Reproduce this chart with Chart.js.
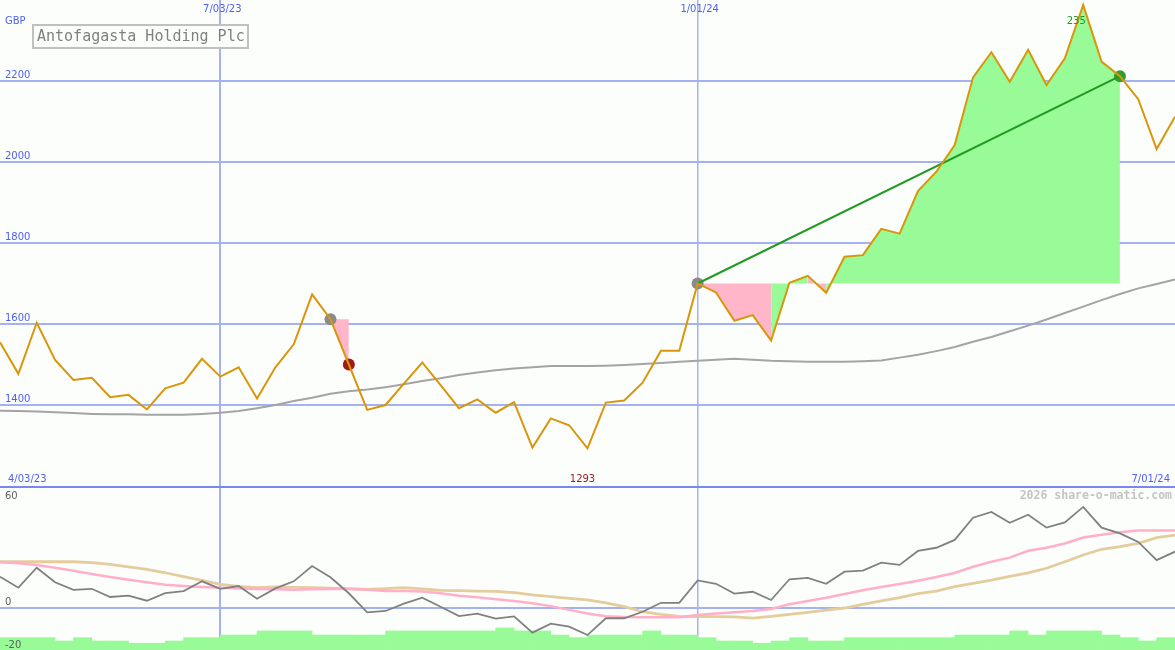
<!DOCTYPE html>
<html lang="en">
<head>
<meta charset="UTF-8">
<title>Antofagasta Holding Plc</title>
<script src="https://cdn.jsdelivr.net/npm/chart.js"></script>
<style>
  body { margin: 0; padding: 0; background: #fcfefc; }
  .wrap { width: 1175px; height: 650px; }
  canvas { display: block; }
  .sep { height: 2px; background: #7a88ee; }
</style>
</head>
<body>
<div class="wrap">
  <canvas id="priceChart" width="1175" height="486"></canvas>
  <div class="sep"></div>
  <canvas id="oscChart" width="1175" height="162"></canvas>
</div>

<script>
// weekly closes, week 0 = 4/03/23 ... week 64 = 7/01/24
const price = [1555, 1477, 1603, 1511, 1462, 1467, 1419, 1425, 1389, 1441,
               1455, 1514, 1470, 1493, 1416, 1493, 1550, 1673, 1612, 1500,
               1388, 1400, 1453, 1505, 1449, 1392, 1414, 1381, 1407, 1295,
               1367, 1350, 1293, 1406, 1411, 1455, 1534, 1534, 1700, 1678,
               1608, 1622, 1559, 1702, 1719, 1677, 1766, 1770, 1835, 1823,
               1928, 1976, 2042, 2209, 2271, 2198, 2277, 2190, 2256, 2388,
               2248, 2212, 2155, 2032, 2112];
const movingAvg = [1386, 1385, 1384, 1382, 1380, 1378, 1377, 1377, 1376, 1376,
                   1376, 1378, 1381, 1385, 1392, 1400, 1410, 1418, 1428, 1434,
                   1438, 1444, 1451, 1459, 1466, 1474, 1480, 1486, 1490, 1493,
                   1496, 1496, 1496, 1497, 1499, 1501, 1504, 1507, 1509, 1512,
                   1514, 1512, 1509, 1508, 1507, 1507, 1507, 1508, 1510, 1517,
                   1524, 1533, 1543, 1556, 1568, 1582, 1596, 1611, 1627, 1643,
                   1659, 1674, 1688, 1699, 1710];
const osc = [16.8, 10.9, 21.6, 13.8, 9.7, 10.3, 5.9, 6.6, 3.9, 8.0,
             9.1, 14.3, 10.3, 11.8, 5.0, 10.5, 14.3, 22.5, 16.5, 7.9,
             -2.3, -1.6, 2.3, 5.5, 0.7, -4.3, -3.0, -5.7, -4.5, -13.2,
             -8.4, -10.0, -14.5, -5.5, -5.5, -2.0, 2.8, 2.8, 14.8, 13.0,
             7.7, 8.7, 4.3, 15.4, 16.1, 13.0, 19.5, 20.0, 24.3, 23.1,
             30.6, 32.3, 36.5, 48.4, 51.5, 45.7, 50.0, 43.1, 45.9, 54.2,
             43.1, 40.0, 35.4, 25.7, 30.2];
const oscFast = [24.5, 24.0, 23.1, 21.6, 20.0, 18.2, 16.6, 15.2, 13.8, 12.5,
                 11.8, 11.3, 10.9, 10.5, 10.2, 10.0, 9.8, 10.0, 10.2, 10.2,
                 9.8, 9.1, 9.1, 8.8, 7.9, 6.6, 5.7, 4.7, 3.8, 2.5,
                 1.0, -1.0, -3.0, -4.4, -4.8, -5.0, -5.0, -5.0, -3.8, -3.0,
                 -2.3, -1.6, -0.5, 2.0, 3.8, 5.5, 7.5, 9.5, 11.3, 12.9,
                 14.6, 16.6, 18.8, 22.1, 24.8, 27.0, 30.7, 32.3, 34.6, 37.8,
                 39.3, 40.6, 41.5, 41.5, 41.5];
const oscSlow = [24.8, 24.8, 24.8, 24.8, 24.8, 24.3, 23.4, 22.1, 20.7, 18.9,
                 16.8, 14.8, 12.7, 11.6, 10.9, 11.3, 11.1, 10.9, 10.7, 10.4,
                 10.0, 10.4, 10.9, 10.2, 9.5, 9.3, 9.1, 8.9, 8.2, 7.0,
                 6.1, 5.2, 4.3, 2.7, 0.7, -2.0, -3.4, -4.5, -4.6, -4.6,
                 -4.8, -5.4, -4.5, -3.4, -2.3, -1.1, 0.0, 2.0, 3.8, 5.5,
                 7.7, 9.1, 11.4, 13.2, 15.0, 17.0, 18.8, 21.3, 24.8, 28.4,
                 31.5, 32.9, 34.7, 37.7, 39.1];
// one bar per week interval (between week k and k+1)
const volBars = [-15.9, -15.9, -15.9, -17.7, -15.9, -17.7, -17.7, -18.9, -18.9, -17.7,
                 -15.9, -15.9, -14.5, -14.5, -12.3, -12.3, -12.3, -14.5, -14.5, -14.5,
                 -14.5, -12.3, -12.3, -12.3, -12.3, -12.3, -12.3, -10.7, -12.3, -12.3,
                 -14.5, -15.9, -14.5, -14.5, -14.5, -12.3, -14.5, -14.5, -15.9, -17.7,
                 -17.7, -18.9, -17.7, -15.9, -17.7, -17.7, -15.9, -15.9, -15.9, -15.9,
                 -15.9, -15.9, -14.5, -14.5, -14.5, -12.3, -14.5, -12.3, -12.3, -12.3,
                 -14.5, -15.9, -17.7, -15.9];

const dateTicks = [12, 38];
const dateLabels = ['7/03/23', '1/01/24'];
const priceTicks = [1400, 1600, 1800, 2000, 2200];
const oscTicks = [60, 0, -20];
const tradeOpen = [18, 38];
const tradeClose = [19, 61];
const lowWeek = 32;
const highLabel = '235';

const GREEN = '#98fb98', PINK = '#ffb6c8', BLUE_TXT = '#4f5fef', GRID = '#a4b2f2';
const pts = arr => arr.map((v, i) => ({x: i, y: v}));

function weekAxis() {
  return {
    type: 'linear', min: 0, max: 64, offset: false,
    afterBuildTicks: s => { s.ticks = dateTicks.map(v => ({value: v})); },
    afterFit: s => { s.height = 0; },
    ticks: { display: false },
    border: { display: false },
    grid: { offset: false, color: GRID, drawTicks: false,
            lineWidth: c => (c.tick && c.tick.value === 12 ? 2 : 1.5) }
  };
}

// trade fills: price between open and close, filled to the entry price
const tradeSets = tradeOpen.map((o, t) => {
  const level = price[o];
  const data = [];
  for (let k = o; k <= tradeClose[t]; k++) data.push({x: k, y: price[k]});
  return {
    type: 'line', data, order: 6,
    borderWidth: 0, pointRadius: 0, tension: 0,
    backgroundColor: GREEN,
    fill: {value: level},
    segment: { backgroundColor: c => (c.p1.parsed.y >= level ? GREEN : PINK) }
  };
});

const markers = [];
const markerColors = [];
tradeOpen.forEach((o, t) => {
  const c = tradeClose[t];
  markers.push({x: o, y: price[o]}); markerColors.push('#8a8a8a');
  markers.push({x: c, y: price[c]}); markerColors.push(price[c] > price[o] ? '#2e9e2e' : '#a01a1a');
});

const priceTexts = {
  id: 'priceTexts',
  afterDatasetsDraw(chart) {
    const ctx = chart.ctx, xs = chart.scales.x, ys = chart.scales.y;
    ctx.save();
    ctx.font = '10px "DejaVu Sans"';
    ctx.fillStyle = BLUE_TXT;
    ctx.textBaseline = 'bottom';
    ctx.textAlign = 'left';
    priceTicks.forEach(v => ctx.fillText(String(v), 5, ys.getPixelForValue(v) - 1));
    ctx.textBaseline = 'middle';
    ctx.fillText('GBP', 5, 21);
    ctx.textAlign = 'center';
    dateTicks.forEach((w, i) => ctx.fillText(dateLabels[i], xs.getPixelForValue(w) + 2, 9));
    ctx.textAlign = 'left';
    ctx.fillText('4/03/23', 8, 479);
    ctx.textAlign = 'right';
    ctx.fillText('7/01/24', 1170, 479);
    ctx.textAlign = 'center';
    ctx.fillStyle = '#a02020';
    ctx.fillText(String(price[lowWeek]), xs.getPixelForValue(lowWeek) - 5, 479);
    ctx.fillStyle = '#229922';
    ctx.fillText(highLabel, xs.getPixelForValue(59) - 7, 21);
    // title box
    ctx.fillStyle = '#fcfefc';
    ctx.fillRect(33, 25, 215, 23);
    ctx.strokeStyle = '#c0c0c0';
    ctx.lineWidth = 2;
    ctx.strokeRect(33, 25, 215, 23);
    ctx.font = '15px "DejaVu Sans Mono"';
    ctx.fillStyle = '#808080';
    ctx.textAlign = 'left';
    ctx.fillText('Antofagasta Holding Plc', 37, 37);
    ctx.restore();
  }
};

new Chart(document.getElementById('priceChart'), {
  type: 'line',
  data: {
    datasets: [
      { data: pts(price), borderColor: '#d9960a', borderWidth: 2, pointRadius: 0, tension: 0, order: 1 },
      { data: [markers[2], markers[3]], borderColor: '#229922', borderWidth: 2, pointRadius: 0, tension: 0, order: 2 },
      { data: pts(movingAvg), borderColor: '#a4a4a4', borderWidth: 2, pointRadius: 0, tension: 0, order: 4 },
      { data: markers, showLine: false, pointRadius: 6, pointBorderWidth: 0,
        pointBackgroundColor: markerColors, order: 5 },
      ...tradeSets
    ]
  },
  options: {
    responsive: false, animation: false, devicePixelRatio: 1,
    layout: { padding: 0, autoPadding: false },
    plugins: { legend: { display: false }, tooltip: { enabled: false } },
    scales: {
      x: weekAxis(),
      y: {
        min: 1200, max: 2400,
        afterBuildTicks: s => { s.ticks = priceTicks.map(v => ({value: v})); },
        afterFit: s => { s.width = 0; },
        ticks: { display: false },
        border: { display: false },
        grid: { color: GRID, lineWidth: 2, drawTicks: false }
      }
    }
  },
  plugins: [priceTexts]
});

const oscTexts = {
  id: 'oscTexts',
  afterDatasetsDraw(chart) {
    const ctx = chart.ctx, ys = chart.scales.y;
    ctx.save();
    ctx.font = '10px "DejaVu Sans"';
    ctx.fillStyle = '#606060';
    ctx.textBaseline = 'middle';
    ctx.textAlign = 'left';
    oscTicks.forEach(v => {
      const yy = v === 0 ? ys.getPixelForValue(v) - 6 : ys.getPixelForValue(v);
      ctx.fillText(String(v), 5, yy);
    });
    ctx.font = 'bold 11.5px "DejaVu Sans Mono"';
    ctx.fillStyle = '#c4c4c4';
    ctx.textAlign = 'right';
    ctx.fillText('2026 share-o-matic.com', 1172, 8);
    ctx.restore();
  }
};

new Chart(document.getElementById('oscChart'), {
  type: 'line',
  data: {
    datasets: [
      { data: pts(osc), borderColor: '#808080', borderWidth: 1.8, pointRadius: 0, tension: 0, order: 1 },
      { data: pts(oscFast), borderColor: '#ffb0c8', borderWidth: 2.5, pointRadius: 0, tension: 0, order: 2 },
      { data: pts(oscSlow), borderColor: '#e4cc9c', borderWidth: 2.8, pointRadius: 0, tension: 0, order: 3 },
      { type: 'bar', data: volBars.map((v, i) => ({x: i + 0.5, y: v})), base: -30,
        backgroundColor: GREEN, borderWidth: 0, barPercentage: 1, categoryPercentage: 1, order: 4 }
    ]
  },
  options: {
    responsive: false, animation: false, devicePixelRatio: 1,
    layout: { padding: 0, autoPadding: false },
    plugins: { legend: { display: false }, tooltip: { enabled: false } },
    scales: {
      x: weekAxis(),
      y: {
        min: -22.52, max: 64.34,
        afterBuildTicks: s => { s.ticks = [{value: 0}]; },
        afterFit: s => { s.width = 0; },
        ticks: { display: false },
        border: { display: false },
        grid: { color: GRID, lineWidth: 2, drawTicks: false }
      }
    }
  },
  plugins: [oscTexts]
});
</script>
</body>
</html>
